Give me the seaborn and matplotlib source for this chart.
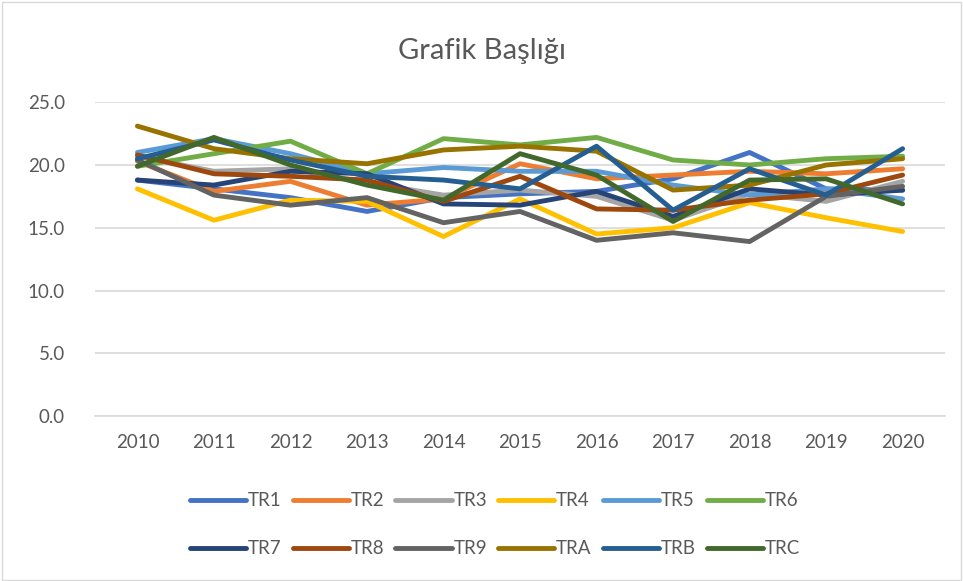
import pandas as pd
import numpy as np
import matplotlib.pyplot as plt
import seaborn as sns
from matplotlib.patches import Rectangle
from matplotlib.lines import Line2D

# ── Data ───────────────────────────────────────────────────
years = [2010, 2011, 2012, 2013, 2014, 2015, 2016, 2017, 2018, 2019, 2020]

tr1 = [18.8, 18.1, 17.4, 16.3, 17.4, 17.7, 17.9, 18.9, 21.0, 18.1, 18.0]
tr2 = [20.3, 17.9, 18.7, 16.8, 17.3, 20.1, 18.9, 19.2, 19.5, 19.3, 19.7]
tr3 = [20.7, 19.5, 19.7, 18.6, 17.6, 18.0, 17.5, 15.6, 17.7, 17.1, 18.7]
tr4 = [18.1, 15.6, 17.2, 17.1, 14.3, 17.3, 14.5, 15.0, 17.0, 15.8, 14.7]
tr5 = [21.0, 22.1, 20.9, 19.3, 19.8, 19.5, 19.5, 18.4, 17.6, 18.1, 17.3]
tr6 = [19.9, 20.9, 21.9, 19.3, 22.1, 21.6, 22.2, 20.4, 20.0, 20.5, 20.7]
tr7 = [18.8, 18.4, 19.5, 19.3, 16.9, 16.8, 17.9, 15.9, 18.1, 17.6, 18.0]
tr8 = [20.8, 19.3, 19.1, 18.8, 17.1, 19.1, 16.5, 16.4, 17.2, 17.7, 19.2]
tr9 = [20.4, 17.6, 16.8, 17.4, 15.4, 16.3, 14.0, 14.6, 13.9, 17.5, 18.3]
tra = [23.1, 21.3, 20.5, 20.1, 21.2, 21.5, 21.1, 18.0, 18.4, 20.0, 20.5]
trb = [20.5, 22.0, 20.4, 19.1, 18.8, 18.1, 21.5, 16.4, 19.7, 17.6, 21.3]
trc = [19.9, 22.2, 20.0, 18.4, 17.2, 20.9, 19.2, 15.5, 18.8, 18.9, 16.9]

series_names = ['TR1', 'TR2', 'TR3', 'TR4', 'TR5', 'TR6',
                'TR7', 'TR8', 'TR9', 'TRA', 'TRB', 'TRC']
series_vals  = [tr1, tr2, tr3, tr4, tr5, tr6, tr7, tr8, tr9, tra, trb, trc]
colors = ['#4472C4', '#ED7D31', '#A5A5A5', '#FFC000', '#5B9BD5', '#70AD47',
          '#264478', '#9E480E', '#636363', '#997300', '#255E91', '#43682B']

df = pd.DataFrame({
    'Year':   np.tile(years, len(series_names)),
    'Series': np.repeat(series_names, len(years)),
    'Value':  np.concatenate(series_vals),
})
palette = dict(zip(series_names, colors))

# ── Plot ───────────────────────────────────────────────────
sns.set_style('white')
plt.rcParams['font.family'] = ['Lato', 'DejaVu Sans']

fig = plt.figure(figsize=(9.63, 5.81), dpi=100)
ax = fig.add_axes([0.099, 0.284, 0.882, 0.540])

sns.lineplot(data=df, x='Year', y='Value', hue='Series', palette=palette,
             linewidth=3.5, ax=ax, legend=False, sort=False)

ax.set_xlim(2009.45, 2020.55)
ax.set_ylim(0, 25)
ax.set_xticks(years)
ax.set_yticks(np.arange(0, 25.1, 5))
ax.set_yticklabels([f'{v:.1f}' for v in np.arange(0, 25.1, 5)])
ax.grid(axis='y', color='#D9D9D9', linewidth=1.2)
ax.set_axisbelow(True)
for s in ['top', 'left', 'right']:
    ax.spines[s].set_visible(False)
ax.spines['bottom'].set_color('#D9D9D9')
ax.spines['bottom'].set_linewidth(1.2)
ax.tick_params(axis='both', length=0, labelsize=13.5, colors='#595959')
ax.tick_params(axis='x', pad=13)
ax.tick_params(axis='y', pad=22)
ax.set_xlabel('')
ax.set_ylabel('')

fig.text(0.5, 0.912, 'Grafik Başlığı', ha='center', va='center',
         fontsize=21, color='#595959')

# legend filled row by row (matplotlib fills columns first)
order = [0, 6, 1, 7, 2, 8, 3, 9, 4, 10, 5, 11]
handles = [Line2D([0], [0], color=colors[i], lw=3.5, solid_capstyle='round') for i in order]
labels = [series_names[i] for i in order]
fig.legend(handles, labels, loc='center', bbox_to_anchor=(0.514, 0.097),
           ncol=6, frameon=False, fontsize=13.5, handlelength=3.0,
           handletextpad=0.1, columnspacing=0.58, labelspacing=1.65,
           labelcolor='#595959')

fig.patches.append(Rectangle((0.002, 0.002), 0.996, 0.994, transform=fig.transFigure,
                             fill=False, edgecolor='#D9D9D9', linewidth=1))

plt.savefig('out.png', dpi=100)
